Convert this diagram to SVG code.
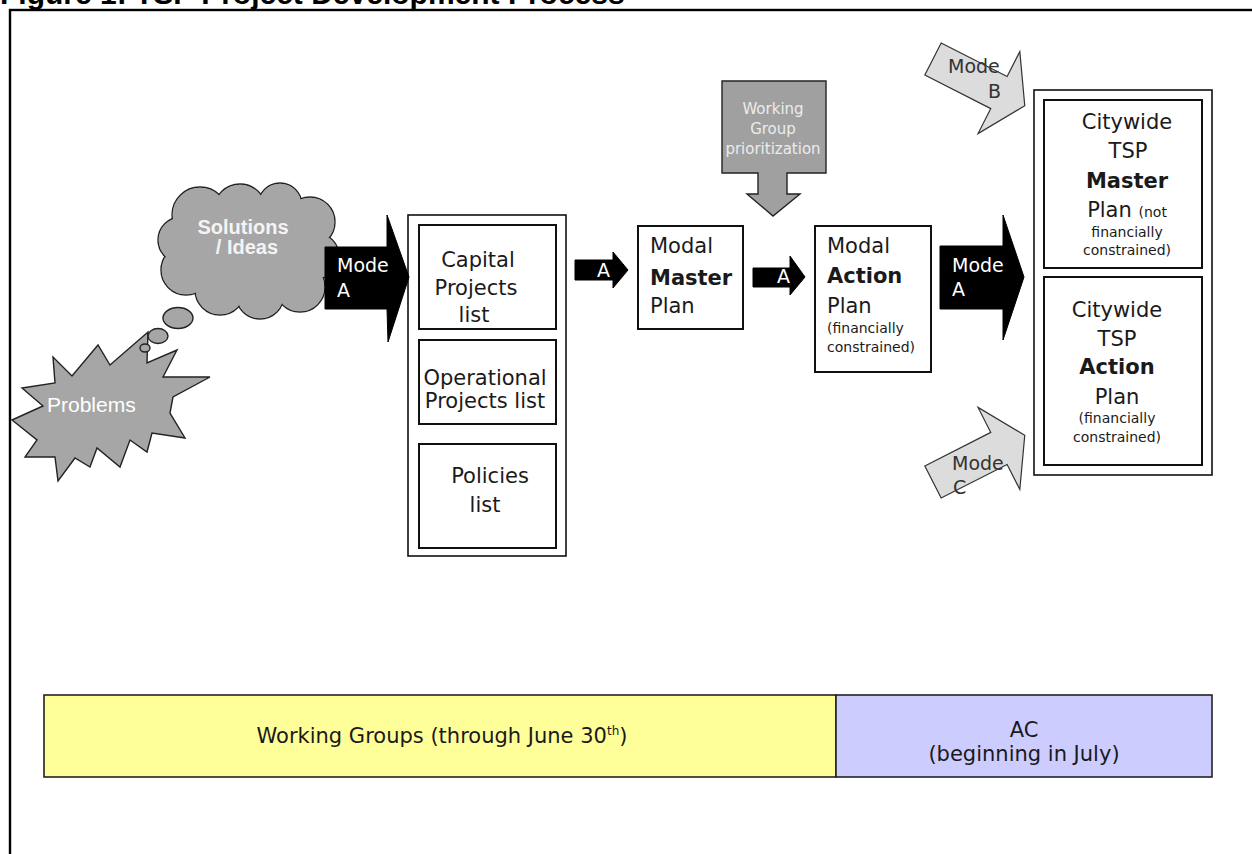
<svg xmlns="http://www.w3.org/2000/svg" width="1252" height="854" viewBox="0 0 1252 854">
<style>
.t{font-family:"DejaVu Sans",Verdana,sans-serif;fill:#1a1a1a;font-size:21px}
.b{font-weight:bold}
.s{font-size:14px}
.w{fill:#ffffff;font-size:19px}
.m{font-size:19px;fill:#333}
.box{fill:#ffffff;stroke:#111;stroke-width:2}
.obox{fill:#ffffff;stroke:#111;stroke-width:1.6}
.blk{fill:#000;stroke:#000;stroke-width:1}
.gry{fill:#a6a6a6;stroke:#222;stroke-width:1.4}
.lgt{fill:#dcdcdc;stroke:#333;stroke-width:1.2}
</style>
<defs>
<path id="bar" d="M0,-18 H74 V-46 L103,0 L74,46 V18 H0 Z"/>
</defs>
<rect width="1252" height="854" fill="#fff"/>
<text x="0" y="4" font-family="Liberation Sans,Arial,sans-serif" font-weight="bold" font-size="30" fill="#000">Figure 1: TSP Project Development Process</text>
<rect x="10" y="10" width="1300" height="900" fill="none" stroke="#000" stroke-width="2.4"/>

<g id="problems">
<polygon class="gry" points="12,420 43,406 22,388 55,383 53,357 72,376 98,345 110,365 148,332 147,363 177,350 163,377 210,377 173,397 170,413 185,438 152,433 147,452 130,440 120,467 97,448 90,467 75,458 58,481 55,457 25,457 37,440"/>
<text x="47" y="412" font-family="Liberation Sans,Arial,sans-serif" font-size="21" fill="#fff">Problems</text>
</g>

<g id="solutions">
<ellipse class="gry" cx="145" cy="348" rx="5" ry="4"/>
<ellipse class="gry" cx="158" cy="336" rx="10" ry="7.5"/>
<ellipse class="gry" cx="178" cy="318" rx="15" ry="10.5"/>
<g class="gry">
<circle cx="200" cy="215" r="28"/><circle cx="240" cy="210" r="26"/><circle cx="280" cy="205" r="22"/>
<circle cx="310" cy="222" r="25"/><circle cx="316" cy="256" r="23"/><circle cx="300" cy="287" r="25"/>
<circle cx="260" cy="295" r="24"/><circle cx="220" cy="290" r="25"/><circle cx="186" cy="270" r="25"/>
<circle cx="181" cy="240" r="23"/>
</g>
<g fill="#a6a6a6">
<circle cx="200" cy="215" r="27.3"/><circle cx="240" cy="210" r="25.3"/><circle cx="280" cy="205" r="21.3"/>
<circle cx="310" cy="222" r="24.3"/><circle cx="316" cy="256" r="22.3"/><circle cx="300" cy="287" r="24.3"/>
<circle cx="260" cy="295" r="23.3"/><circle cx="220" cy="290" r="24.3"/><circle cx="186" cy="270" r="24.3"/>
<circle cx="181" cy="240" r="22.3"/>
<ellipse cx="250" cy="252" rx="70" ry="48"/>
</g>
<text x="243" y="234" text-anchor="middle" font-family="Liberation Sans,Arial,sans-serif" font-weight="bold" font-size="20" fill="#f4f4f4">Solutions</text>
<text x="247" y="254" text-anchor="middle" font-family="Liberation Sans,Arial,sans-serif" font-weight="bold" font-size="20" fill="#f4f4f4">/ Ideas</text>
</g>

<g id="lists">
<rect class="obox" x="408" y="215" width="158" height="341"/>
<g id="capital">
<rect class="box" x="419" y="225" width="137" height="104"/>
<text class="t" x="478" y="267" text-anchor="middle">Capital</text>
<text class="t" x="476" y="295" text-anchor="middle">Projects</text>
<text class="t" x="474" y="322" text-anchor="middle">list</text>
</g>
<g id="operational">
<rect class="box" x="419" y="340" width="137" height="84"/>
<text class="t" x="485" y="385" text-anchor="middle">Operational</text>
<text class="t" x="485" y="408" text-anchor="middle">Projects list</text>
</g>
<g id="policies">
<rect class="box" x="419" y="444" width="137" height="104"/>
<text class="t" x="490" y="483" text-anchor="middle">Policies</text>
<text class="t" x="485" y="512" text-anchor="middle">list</text>
</g>
</g>

<g id="modal-master">
<rect class="box" x="638" y="226" width="105" height="103"/>
<text class="t" x="650" y="253">Modal</text>
<text class="t b" x="650" y="285">Master</text>
<text class="t" x="650" y="313">Plan</text>
</g>

<g id="modal-action">
<rect class="box" x="815" y="226" width="116" height="146"/>
<text class="t" x="827" y="253">Modal</text>
<text class="t b" x="827" y="283">Action</text>
<text class="t" x="827" y="313">Plan</text>
<text class="t s" x="827" y="333">(financially</text>
<text class="t s" x="827" y="352">constrained)</text>
</g>

<g id="wg-prioritization">
<path d="M722,81 H826 V173 H787 V194 H800 L773,216 L747,194 H758 V173 H722 Z" fill="#a0a0a0" stroke="#222" stroke-width="1.4"/>
<text x="773" y="114" text-anchor="middle" font-family="DejaVu Sans,Verdana,sans-serif" font-size="15" fill="#ececec">Working</text>
<text x="773" y="134" text-anchor="middle" font-family="DejaVu Sans,Verdana,sans-serif" font-size="15" fill="#ececec">Group</text>
<text x="773" y="154" text-anchor="middle" font-family="DejaVu Sans,Verdana,sans-serif" font-size="15" fill="#ececec">prioritization</text>
</g>

<g id="citywide">
<rect class="obox" x="1034" y="90" width="178" height="385"/>
<g id="citywide-master">
<rect class="box" x="1044" y="100" width="158" height="168"/>
<text class="t" x="1127" y="129" text-anchor="middle">Citywide</text>
<text class="t" x="1128" y="158" text-anchor="middle">TSP</text>
<text class="t b" x="1127" y="188" text-anchor="middle">Master</text>
<text class="t" x="1127" y="217" text-anchor="middle">Plan <tspan font-size="14">(not</tspan></text>
<text class="t s" x="1127" y="237" text-anchor="middle">financially</text>
<text class="t s" x="1127" y="255" text-anchor="middle">constrained)</text>
</g>
<g id="citywide-action">
<rect class="box" x="1044" y="277" width="158" height="188"/>
<text class="t" x="1117" y="317" text-anchor="middle">Citywide</text>
<text class="t" x="1117" y="346" text-anchor="middle">TSP</text>
<text class="t b" x="1117" y="374" text-anchor="middle">Action</text>
<text class="t" x="1117" y="404" text-anchor="middle">Plan</text>
<text class="t s" x="1117" y="423" text-anchor="middle">(financially</text>
<text class="t s" x="1117" y="442" text-anchor="middle">constrained)</text>
</g>
</g>

<g id="connectors">
<g id="mode-a-1">
<polygon class="blk" points="325,247 387,247 387,215 409,277 388,342 387,309 325,309"/>
<text class="t w" x="337" y="272">Mode</text>
<text class="t w" x="337" y="297">A</text>
</g>
<g id="a-1">
<polygon class="blk" points="575,260 613,260 613,252 628,270 613,288 613,280 575,280"/>
<text class="t w" x="597" y="277">A</text>
</g>
<g id="a-2">
<polygon class="blk" points="753,268 790,268 790,256 805,277 790,295 790,287 753,287"/>
<text class="t w" x="777" y="283">A</text>
</g>
<g id="mode-a-2">
<polygon class="blk" points="940,246 1003,246 1003,215 1024,277 1003,340 1003,309 940,309"/>
<text class="t w" x="952" y="272">Mode</text>
<text class="t w" x="952" y="296">A</text>
</g>
<g id="mode-b">
<use href="#bar" class="lgt" transform="translate(933,59) rotate(27)"/>
<text class="t m" x="948" y="73">Mode</text>
<text class="t m" x="988" y="98">B</text>
</g>
<g id="mode-c">
<use href="#bar" class="lgt" transform="translate(933,482) rotate(-27)"/>
<text class="t m" x="952" y="470">Mode</text>
<text class="t m" x="953" y="494">C</text>
</g>
</g>

<g id="timeline">
<g id="working-groups">
<rect x="44" y="695" width="792" height="82" fill="#ffff99" stroke="#222" stroke-width="1.6"/>
<text class="t" x="442" y="743" text-anchor="middle">Working Groups (through June 30<tspan font-size="12" dy="-8">th</tspan><tspan dy="8">)</tspan></text>
</g>
<g id="ac">
<rect x="836" y="695" width="376" height="82" fill="#ccccff" stroke="#222" stroke-width="1.6"/>
<text class="t" x="1024" y="737" text-anchor="middle">AC</text>
<text class="t" x="1024" y="761" text-anchor="middle">(beginning in July)</text>
</g>
</g>
</svg>
